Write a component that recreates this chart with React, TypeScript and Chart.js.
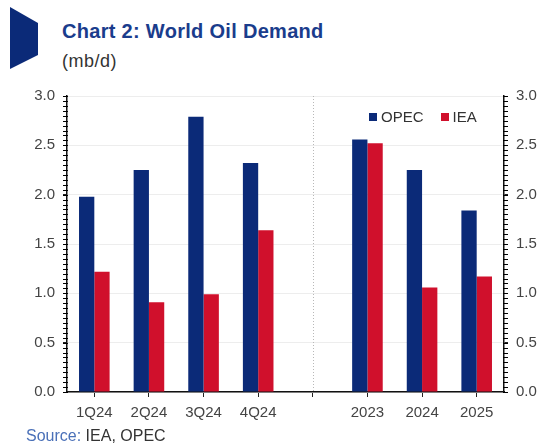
import React, { useEffect, useRef } from "react";
import { Chart, registerables } from "chart.js";

Chart.register(...registerables);

const categories = ["1Q24", "2Q24", "3Q24", "4Q24", "", "2023", "2024", "2025"];
const opecValues = [1.98, 2.25, 2.79, 2.32, null, 2.56, 2.25, 1.84];
const ieaValues = [1.22, 0.91, 0.99, 1.64, null, 2.52, 1.06, 1.17];
const seriesNames = ["OPEC", "IEA"];
const yMin = 0;
const yMax = 3;
const majorStep = 0.5;
const minorStep = 0.05;

const NAVY = "#0b2a78";
const RED = "#d0102c";
const FONT = "'Liberation Sans', Arial, sans-serif";

const overlayPlugin = {
  id: "overlayMarks",
  afterDraw(chart: any) {
    const ctx = chart.ctx;
    const area = chart.chartArea;
    ctx.save();
    ctx.setLineDash([]);
    ctx.strokeStyle = "#000000";
    ctx.lineWidth = 1;
    const s = chart.scales.y;
    const n = Math.round((yMax - yMin) / minorStep);
    for (let i = 0; i <= n; i++) {
      const v = yMin + i * minorStep;
      const y = Math.round(s.getPixelForValue(v)) + 0.5;
      ctx.beginPath();
      ctx.moveTo(area.left - 4, y);
      ctx.lineTo(area.left + 1, y);
      ctx.stroke();
      ctx.beginPath();
      ctx.moveTo(area.right - 1, y);
      ctx.lineTo(area.right + 4, y);
      ctx.stroke();
    }
    const x = chart.scales.x.getPixelForValue(4);
    ctx.strokeStyle = "#b8b8b8";
    ctx.setLineDash([1, 2]);
    ctx.beginPath();
    ctx.moveTo(Math.round(x) + 0.5, area.top);
    ctx.lineTo(Math.round(x) + 0.5, area.bottom);
    ctx.stroke();
    ctx.restore();
  },
};

export default function App() {
  const ref = useRef<HTMLCanvasElement>(null);

  useEffect(() => {
    document.body.style.margin = "0";
    const yAxis = (pos: "left" | "right") => ({
      position: pos,
      min: yMin,
      max: yMax,
      afterFit: (s: any) => {
        s.width = pos === "left" ? 67 : 33;
      },
      border: { display: true, color: "#111", width: 1.5 },
      grid: {
        drawOnChartArea: pos === "left",
        color: "#ededed",
        tickColor: "#222",
        tickLength: 4,
        lineWidth: 1,
      },
      ticks: {
        stepSize: majorStep,
        autoSkip: false,
        padding: 8,
        color: "#444",
        font: { family: FONT, size: 15 },
        callback: (v: any) => Number(v).toFixed(1),
      },
    });

    const chart = new Chart(ref.current!, {
      type: "bar",
      data: {
        labels: categories,
        datasets: [
          { label: seriesNames[0], data: opecValues as any, backgroundColor: NAVY, yAxisID: "y" },
          { label: seriesNames[1], data: ieaValues as any, backgroundColor: RED, yAxisID: "y" },
        ],
      },
      options: {
        animation: false,
        responsive: false,
        maintainAspectRatio: false,
        layout: { padding: { top: 96, left: 0, right: 0, bottom: 0 } },
        datasets: { bar: { categoryPercentage: 0.56, barPercentage: 1 } },
        plugins: { legend: { display: false }, tooltip: { enabled: false } },
        scales: {
          x: {
            afterFit: (s: any) => {
              s.height = 53;
            },
            border: { display: true, color: "#111", width: 1.5 },
            grid: {
              offset: false,
              drawOnChartArea: false,
              drawTicks: true,
              tickLength: 5,
              tickColor: "#222",
            },
            ticks: {
              color: "#444",
              padding: 7,
              autoSkip: false,
              maxRotation: 0,
              font: { family: FONT, size: 15 },
            },
          },
          y: yAxis("left") as any,
          y2: yAxis("right") as any,
        },
      },
      plugins: [overlayPlugin],
    });
    return () => chart.destroy();
  }, []);

  return (
    <div style={{ position: "relative", width: 537, height: 445, background: "#fff", overflow: "hidden", fontFamily: FONT }}>
      <svg width={40} height={75} style={{ position: "absolute", left: 0, top: 0 }}>
        <polygon points="10,7 38,23 38,55 10,69" fill={NAVY} />
      </svg>
      <div style={{ position: "absolute", left: 62, top: 19, fontSize: 20, lineHeight: "24px", fontWeight: "bold", color: "#1a3c8c", whiteSpace: "nowrap", letterSpacing: 0.3 }}>
        Chart 2: World Oil Demand
      </div>
      <div style={{ position: "absolute", left: 62, top: 50, fontSize: 18, lineHeight: "22px", color: "#333", letterSpacing: 0.5 }}>(mb/d)</div>
      <canvas ref={ref} width={537} height={445} style={{ position: "absolute", left: 0, top: 0 }} />
      <div style={{ position: "absolute", left: 369, top: 108, fontSize: 15, lineHeight: "18px", color: "#333", display: "flex", alignItems: "center", whiteSpace: "nowrap" }}>
        <span style={{ display: "inline-block", width: 8, height: 8, background: NAVY, marginRight: 4 }} />
        <span>{seriesNames[0]}</span>
        <span style={{ display: "inline-block", width: 8, height: 8, background: RED, marginLeft: 17, marginRight: 4 }} />
        <span>{seriesNames[1]}</span>
      </div>
      <div style={{ position: "absolute", left: 26, top: 426, fontSize: 16, lineHeight: "20px", whiteSpace: "nowrap" }}>
        <span style={{ color: "#4a70b8" }}>Source:</span>
        <span style={{ color: "#333" }}> IEA, OPEC</span>
      </div>
    </div>
  );
}
